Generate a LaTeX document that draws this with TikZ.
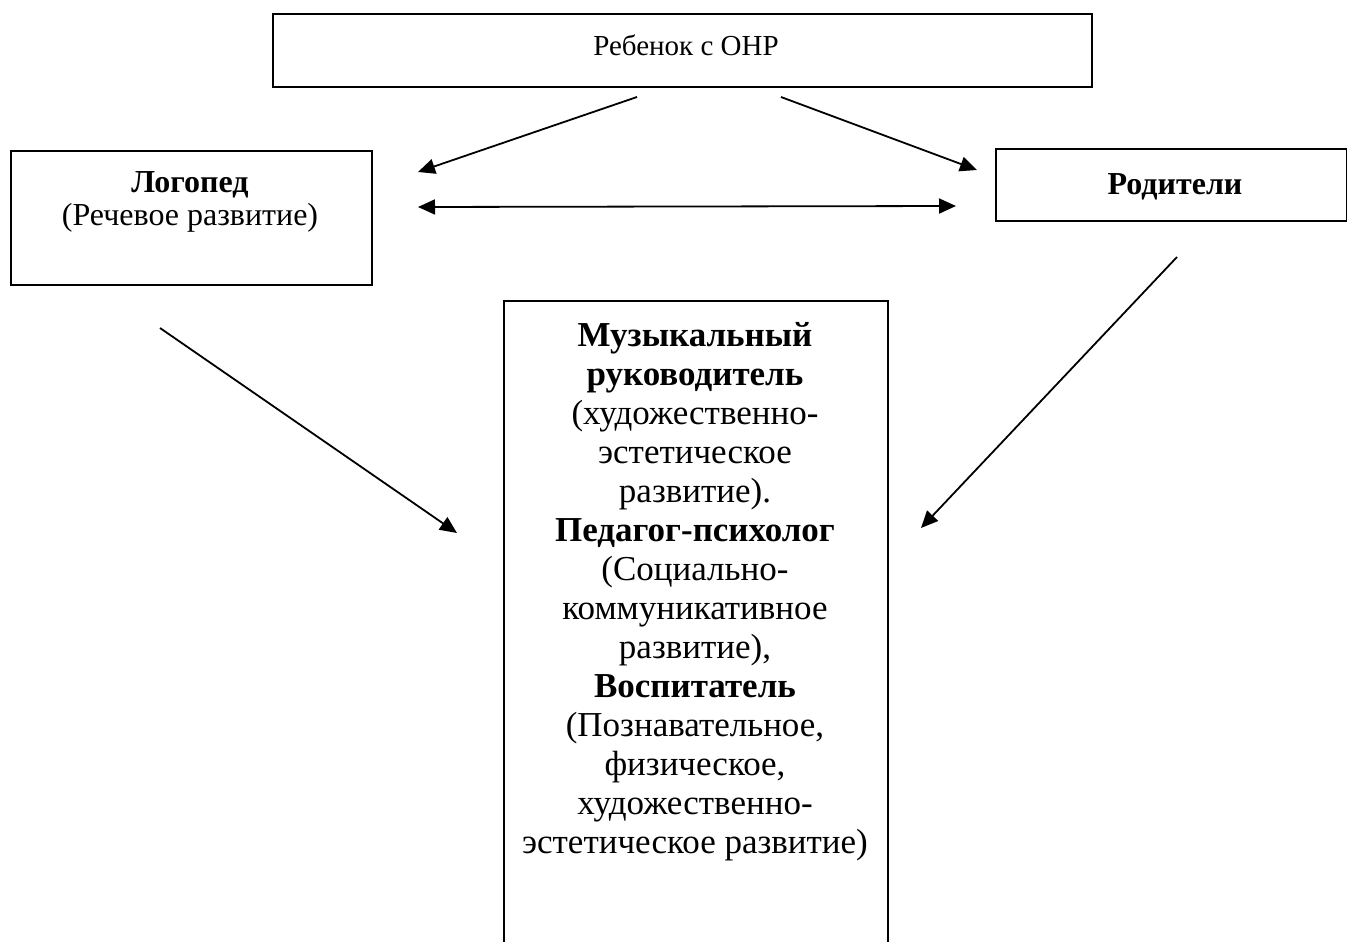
\documentclass[tikz,border=0pt]{standalone}
\usepackage{fontspec}
\setmainfont{Liberation Serif}
\usetikzlibrary{arrows.meta}
\begin{document}
\begin{tikzpicture}[x=1pt,y=-1pt,
  box/.style={draw,line width=1.6pt,inner sep=0pt,anchor=north west},
  txt/.style={inner sep=0pt,align=center},
  big/.style={font=\fontsize{35}{39.05}\selectfont},
  mid/.style={font=\fontsize{32}{33}\selectfont},
  small/.style={font=\fontsize{29}{33.4}\selectfont},
  conn/.style={line width=1.8pt,-{Triangle[length=17pt,width=15pt]}},
  bconn/.style={line width=1.8pt,{Triangle[length=17pt,width=15pt]}-{Triangle[length=17pt,width=15pt]}}
  ]
\useasboundingbox (0,0) rectangle (1347,942);
\clip (0,0) rectangle (1347,942);
% boxes
\node[box,minimum width=819pt,minimum height=73pt] (child) at (272,13) {};
\node[box,minimum width=361pt,minimum height=134pt] (logo) at (10,150) {};
\node[box,minimum width=351pt,minimum height=72pt] (par) at (995,148) {};
\node[box,minimum width=384pt,minimum height=700pt] (spec) at (503,300) {};
% texts
\node[txt,small,anchor=base] (childT) at (686,56) {Ребенок с ОНР};
\node[txt,mid,anchor=north] (logoT) at (190,171) {\textbf{Логопед}\\(Речевое развитие)};
\node[txt,mid,anchor=base] (parT) at (1175,194) {\textbf{Родители}};
\node[txt,big,anchor=north] (specT) at (695,322) {\textbf{Музыкальный}\\\textbf{руководитель}\\(художественно-\\эстетическое\\развитие).\\\textbf{Педагог-психолог}\\(Социально-\\коммуникативное\\развитие),\\\textbf{Воспитатель}\\(Познавательное,\\физическое,\\художественно-\\эстетическое развитие)};
% connector end points
\coordinate (c1s) at (637,97);
\coordinate (c1e) at (418,172);
\coordinate (c2s) at (781,97);
\coordinate (c2e) at (977,170);
\coordinate (c3s) at (418,207);
\coordinate (c3e) at (956,206);
\coordinate (c4s) at (160,328);
\coordinate (c4e) at (457,533);
\coordinate (c5s) at (1177,257);
\coordinate (c5e) at (921,528);
\draw[conn] (c1s) -- (c1e);
\draw[conn] (c2s) -- (c2e);
\draw[bconn] (c3s) -- (c3e);
\draw[conn] (c4s) -- (c4e);
\draw[conn] (c5s) -- (c5e);
\end{tikzpicture}
\end{document}
